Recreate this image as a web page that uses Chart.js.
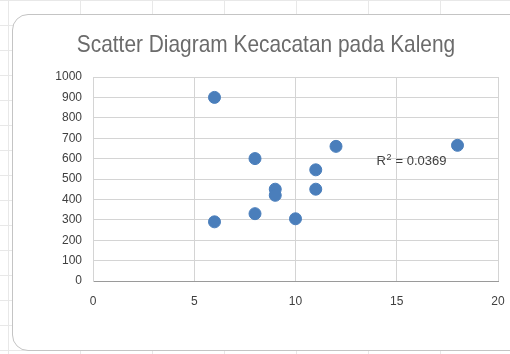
<!DOCTYPE html>
<html>
<head>
<meta charset="utf-8">
<script src="https://cdn.jsdelivr.net/npm/chart.js@4"></script>
<style>
  html, body { margin:0; padding:0; width:510px; height:354px; overflow:hidden; background:#fff; }
  body {
    background-image:
      linear-gradient(to right, #e8e8e8 1px, transparent 1px),
      linear-gradient(to bottom, #e8e8e8 1px, transparent 1px);
    background-size: 72px 25px, 72px 25px;
    background-position: 8px 0, 0 0;
  }
  #card { position:absolute; left:12px; top:14px; width:520px; height:337px; background:#fff;
          border:1px solid #c4c4c4; border-radius:16px; box-sizing:border-box; }
  #wrap { position:absolute; left:0; top:0; width:510px; height:354px; }
</style>
</head>
<body>
<div id="card"></div>
<div id="wrap"><canvas id="c" width="510" height="354"></canvas></div>
<script>
const chartTitle = "Scatter Diagram Kecacatan pada Kaleng";
const xValues = [6, 6, 8, 8, 9, 9, 10, 11, 11, 12, 18];
const yValues = [900, 290, 600, 330, 450, 420, 305, 545, 450, 660, 665];
const xTicks = [0, 5, 10, 15, 20];
const yTicks = [0, 100, 200, 300, 400, 500, 600, 700, 800, 900, 1000];
const rSquaredText = " = 0.0369";
const labelPos = [14.0, 585];

const points = xValues.map((x, i) => ({ x: x, y: yValues[i] }));

const FONT = '"Liberation Sans", Arial, sans-serif';

const titlePlugin = {
  id: 'customTitle',
  afterDraw(chart) {
    const { ctx } = chart;
    ctx.save();
    ctx.fillStyle = '#6b6b6b';
    ctx.font = '24px ' + FONT;
    ctx.textAlign = 'center';
    ctx.textBaseline = 'middle';
    ctx.translate(266, 45);
    ctx.scale(0.87, 1);
    ctx.fillText(chartTitle, 0, 0);
    ctx.restore();
  }
};

const r2Plugin = {
  id: 'r2',
  afterDatasetsDraw(chart) {
    const { ctx, scales } = chart;
    const px = scales.x.getPixelForValue(labelPos[0]);
    const py = scales.y.getPixelForValue(labelPos[1]);
    ctx.save();
    ctx.fillStyle = '#404040';
    ctx.font = '13px ' + FONT;
    ctx.textBaseline = 'middle';
    ctx.textAlign = 'left';
    ctx.fillText('R', px, py);
    const wR = ctx.measureText('R').width;
    ctx.font = '9px ' + FONT;
    ctx.fillText('2', px + wR + 0.5, py - 4);
    const w2 = ctx.measureText('2').width;
    ctx.font = '13px ' + FONT;
    ctx.fillText(rSquaredText, px + wR + w2 + 1, py);
    ctx.restore();
  }
};

new Chart(document.getElementById('c'), {
  type: 'scatter',
  data: {
    datasets: [{
      data: points,
      backgroundColor: '#4a7ebb',
      borderColor: '#4a7ebb',
      pointRadius: 6,
      pointHoverRadius: 6
    }]
  },
  options: {
    responsive: false,
    animation: false,
    layout: { padding: { left: 0, right: 12, top: 77, bottom: 0 } },
    plugins: {
      legend: { display: false },
      tooltip: { enabled: false },
      title: { display: false }
    },
    scales: {
      x: {
        type: 'linear',
        min: 0, max: 20,
        afterBuildTicks(s) { s.ticks = xTicks.map(v => ({ value: v })); },
        ticks: { color: '#404040', padding: 13,
                 font: { family: FONT, size: 12 },
                 callback: v => String(v) },
        grid: { color: '#d4d4d4', drawTicks: false },
        border: { color: '#9a9a9a' },
        afterFit(s) { s.height = 73; s.paddingLeft = 0; s.paddingRight = 0; }
      },
      y: {
        min: 0, max: 1000,
        afterBuildTicks(s) { s.ticks = yTicks.map(v => ({ value: v })); },
        ticks: { color: '#404040', padding: 11,
                 font: { family: FONT, size: 12 },
                 callback: v => String(v) },
        grid: { color: '#d4d4d4', drawTicks: false },
        border: { color: '#d4d4d4' },
        afterFit(s) { s.width = 93; s.paddingTop = 0; s.paddingBottom = 0; }
      }
    }
  },
  plugins: [r2Plugin, titlePlugin]
});
</script>
</body>
</html>
